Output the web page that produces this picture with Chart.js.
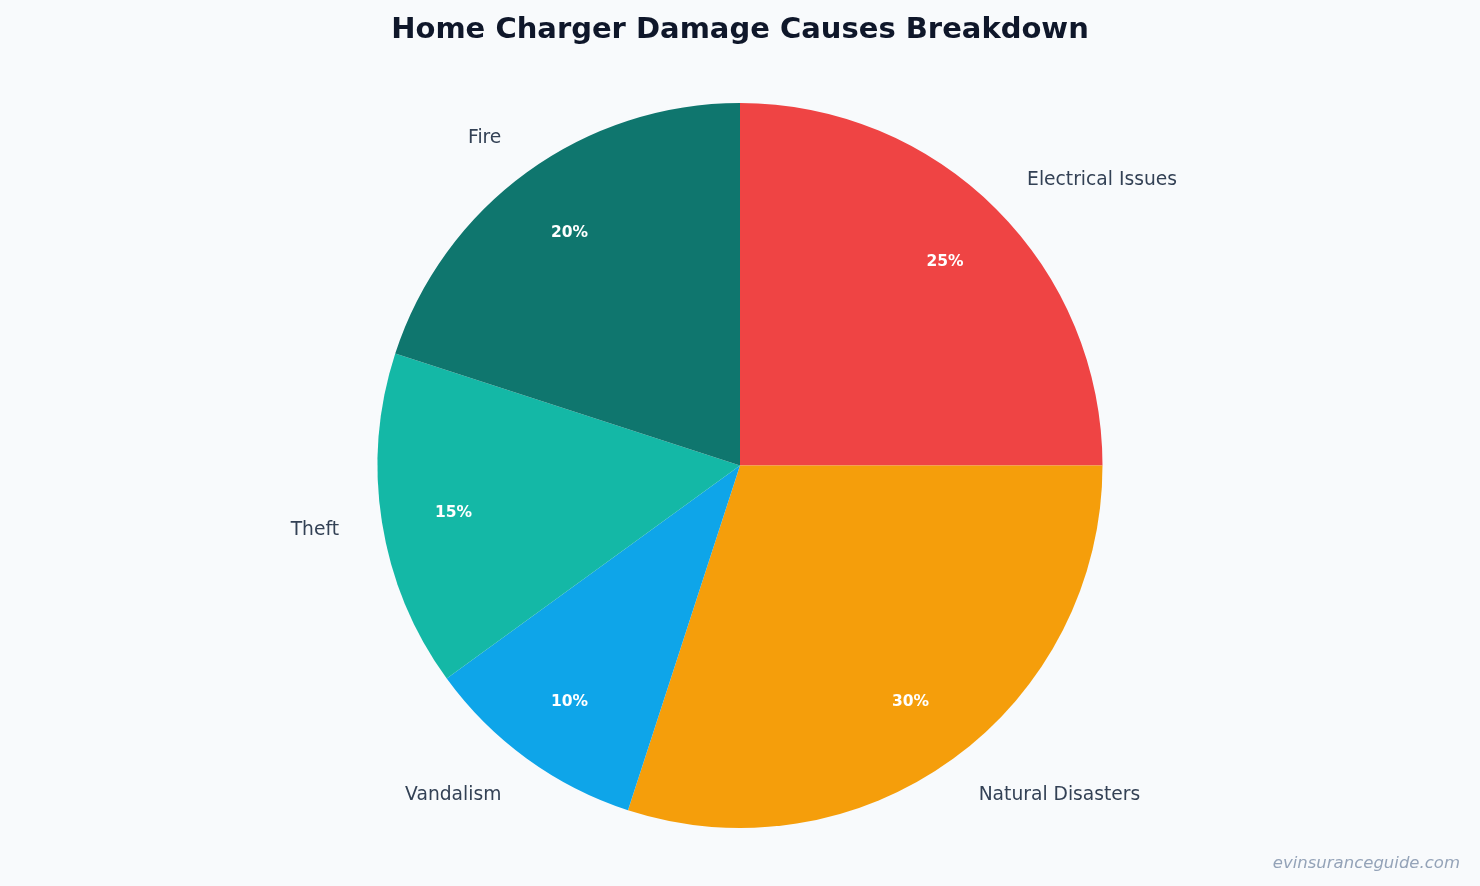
<!DOCTYPE html>
<html>
<head>
<meta charset="utf-8">
<title>Home Charger Damage Causes Breakdown</title>
<script src="https://cdn.jsdelivr.net/npm/chart.js@4/dist/chart.umd.min.js"></script>
<style>
  html, body { margin: 0; padding: 0; background: #f8fafc; }
  #wrap { width: 1480px; height: 886px; }
</style>
</head>
<body>
<div id="wrap"><canvas id="pie" width="1480" height="886"></canvas></div>
<script>
  const CAUSES = ['Electrical Issues', 'Natural Disasters', 'Vandalism', 'Theft', 'Fire'];
  const SHARES = [25, 30, 10, 15, 20];
  const COLORS = ['#ef4444', '#f59e0b', '#0ea5e9', '#14b8a6', '#0f766e'];

  const FONT = "'DejaVu Sans', sans-serif";

  // Outside labels at 1.12r, percentages at 0.8r, plus the site watermark
  const sliceLabels = {
    id: 'sliceLabels',
    afterDatasetsDraw(chart) {
      const ctx = chart.ctx;
      const meta = chart.getDatasetMeta(0);
      ctx.save();
      meta.data.forEach((arc, i) => {
        const mid = (arc.startAngle + arc.endAngle) / 2;
        const r = arc.outerRadius;
        const cos = Math.cos(mid), sin = Math.sin(mid);

        // category label
        ctx.font = `18.7px ${FONT}`;
        ctx.fillStyle = '#334155';
        ctx.textBaseline = 'middle';
        ctx.textAlign = cos >= 0 ? 'left' : 'right';
        ctx.fillText(CAUSES[i], arc.x + cos * r * 1.12, arc.y + sin * r * 1.12 + 1.5);

        // percentage
        ctx.font = `bold 15.5px ${FONT}`;
        ctx.fillStyle = '#ffffff';
        ctx.textAlign = 'center';
        ctx.fillText(SHARES[i] + '%', arc.x + cos * r * 0.8, arc.y + sin * r * 0.8 + 2);
      });

      ctx.font = `italic 16.5px ${FONT}`;
      ctx.fillStyle = '#94a3b8';
      ctx.textAlign = 'right';
      ctx.textBaseline = 'middle';
      ctx.fillText('evinsuranceguide.com', 1460, 864);
      ctx.restore();
    },
  };

  new Chart(document.getElementById('pie'), {
    type: 'pie',
    data: {
      labels: CAUSES,
      datasets: [{
        data: SHARES,
        backgroundColor: COLORS,
        borderWidth: 0,
      }],
    },
    options: {
      responsive: false,
      animation: false,
      layout: { padding: { bottom: 58 } },
      plugins: {
        legend: { display: false },
        title: {
          display: true,
          text: 'Home Charger Damage Causes Breakdown',
          color: '#0f172a',
          font: { family: FONT, size: 29, weight: 'bold' },
          padding: { top: 13.2, bottom: 55 },
        },
      },
    },
    plugins: [sliceLabels],
  });
</script>
</body>
</html>
